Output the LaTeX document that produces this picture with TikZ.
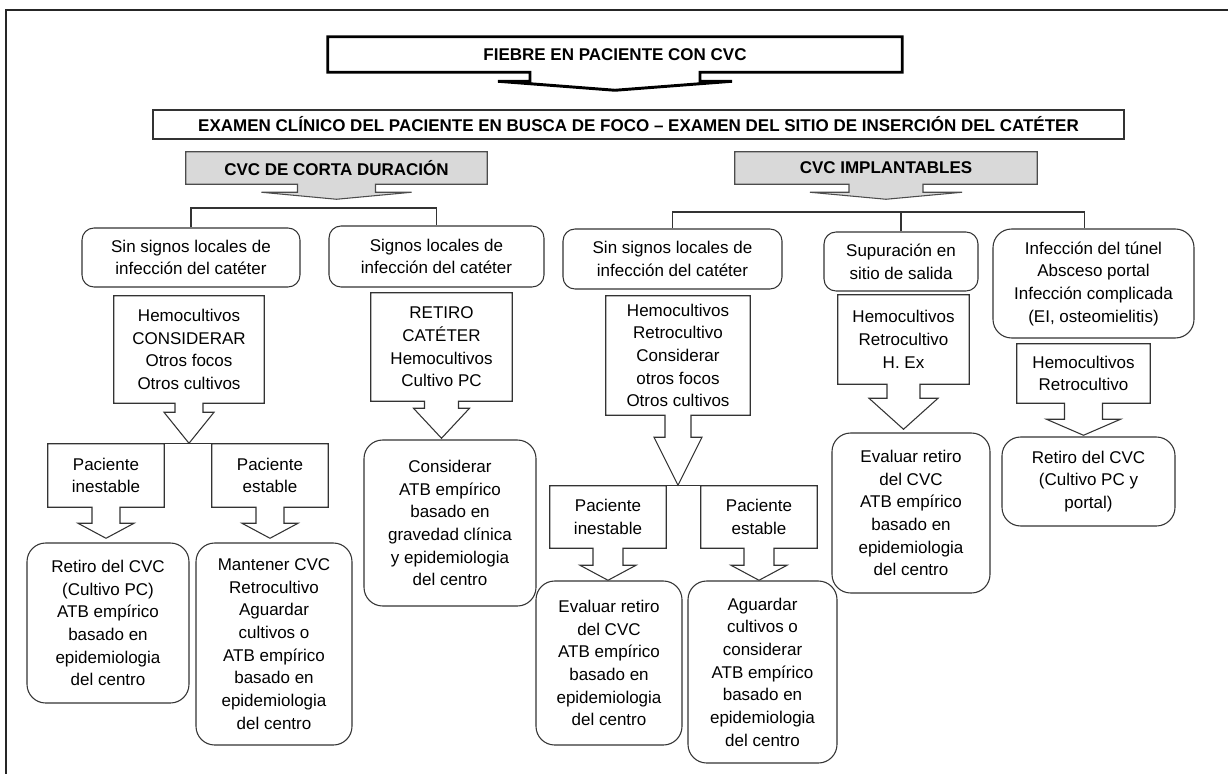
\documentclass[tikz,border=0pt]{standalone}
\usepackage{fontspec}
\setmainfont{Liberation Sans}
\usetikzlibrary{calc}
\pgfdeclarelayer{bg}
\pgfsetlayers{bg,main}
\tikzset{
  ln/.style={draw=black!80, line width=0.8pt},
  sz/.style 2 args={minimum width={#1*0.75pt}, minimum height={#2*0.75pt}},
  txt/.style={align=center, font=\fontsize{12.75}{17}\selectfont, inner sep=0pt},
  hdr/.style={txt, font=\fontsize{12.75}{17}\selectfont\bfseries},
  rbox/.style={txt, ln, rounded corners=9pt},
  bigbox/.style={txt, ln, rounded corners=14pt},
  titleline/.style={draw=black, line width=2.2pt, miter limit=10},
  greyline/.style={draw=black!70, line width=0.8pt, fill=black!15},
}
% #1 style, #2 node, #3 shaft half width, #4 shaft length, #5 head half width, #6 head length
\newcommand\callout[6][ln]{%
  \begin{pgfonlayer}{bg}
  \draw[#1] (#2.north west) -- (#2.north east) -- (#2.south east)
    -- ($(#2.south)+(#3,0)$) -- ($(#2.south)+(#3,#4)$) -- ($(#2.south)+(#5,#4)$)
    -- ($(#2.south)+(0,{#4+#6})$) -- ($(#2.south)+(-#5,#4)$) -- ($(#2.south)+(-#3,#4)$)
    -- ($(#2.south)+(-#3,0)$) -- (#2.south west) -- cycle;
  \end{pgfonlayer}}
\begin{document}
\begin{tikzpicture}[x=0.75pt, y=-0.75pt]
\useasboundingbox (0,0) rectangle (1228,774);
% frame
\draw[line width=1.4pt, black!85] (1228,10) -- (6,10) -- (6,774);

% top
\node[hdr, sz={574}{35}] (title) at (615,54.5) {FIEBRE EN PACIENTE CON CVC};
\callout[titleline]{title}{85}{9}{117}{9}
\node[hdr, ln, sz={971}{29}] (exam) at (638.5,124.5) {EXAMEN CLÍNICO DEL PACIENTE EN BUSCA DE FOCO – EXAMEN DEL SITIO DE INSERCIÓN DEL CATÉTER};

\node[hdr, sz={301}{32}] (gL) at (336.5,168) {CVC DE CORTA DURACIÓN};
\callout[greyline]{gL}{39}{8}{75}{7}
\node[hdr, sz={302}{32}] (gR) at (886,168) {CVC IMPLANTABLES};
\callout[greyline]{gR}{37}{8}{76}{7}

% left branch
\node[rbox, sz={218}{59}] (sA) at (191,257.5) {Sin signos locales de\\infección del catéter};
\node[rbox, sz={215}{61}] (sB) at (436.5,256.5) {Signos locales de\\infección del catéter};
\coordinate (jL) at (336.5,208);
\draw[ln] (sA.north) -- (sA.north |- jL) -- (sB.north |- jL) -- (sB.north);

\node[txt, sz={150}{107}] (cA) at (189,349.5) {Hemocultivos\\CONSIDERAR\\Otros focos\\Otros cultivos};
\callout{cA}{14}{9}{25}{31}
\node[txt, sz={141}{108}] (cB) at (441.5,347) {RETIRO\\CATÉTER\\Hemocultivos\\Cultivo PC};
\callout{cB}{17}{7}{28}{30}

\node[txt, sz={116}{63}] (pA) at (106,475.5) {Paciente\\inestable};
\callout{pA}{14}{16}{28}{15}
\node[txt, sz={116}{63}] (pB) at (270,475.5) {Paciente\\estable};
\callout{pB}{14}{16}{28}{15}
\draw[ln] (pA.north east) -- (pB.north west);

\node[bigbox, sz={162}{160}] (dA) at (108,623) {Retiro del CVC\\(Cultivo PC)\\ATB empírico\\basado en\\epidemiologia\\del centro};
\node[bigbox, sz={156}{202}] (dB) at (274,644) {Mantener CVC\\Retrocultivo\\Aguardar\\cultivos o\\ATB empírico\\basado en\\epidemiologia\\del centro};
\node[bigbox, sz={172}{166}] (dC) at (450,523) {Considerar\\ATB empírico\\basado en\\gravedad clínica\\y epidemiologia\\del centro};

% right branch
\node[rbox, sz={219}{60}] (rA) at (672.5,259) {Sin signos locales de\\infección del catéter};
\node[rbox, sz={154}{59}] (rB) at (901,261.5) {Supuración en\\sitio de salida};
\node[bigbox, sz={201}{109}] (rC) at (1093.5,283.5) {Infección del túnel\\Absceso portal\\Infección complicada\\(EI, osteomielitis)};
\coordinate (jR) at (886,212);
\coordinate (rCtop) at ($(rC.north)+(-9,0)$);
\draw[ln] (rA.north) -- (rA.north |- jR) -- (rCtop |- jR) -- (rCtop);
\draw[ln] (rB.north) -- (rB.north |- jR);

\node[txt, sz={144}{119}] (cC) at (678,355.5) {Hemocultivos\\Retrocultivo\\Considerar\\otros focos\\Otros cultivos};
\callout{cC}{13}{22}{24}{48}
\node[txt, sz={131}{89}] (cD) at (903.5,339.5) {Hemocultivos\\Retrocultivo\\H. Ex};
\callout{cD}{16.5}{14}{34.5}{31}
\node[txt, sz={133}{59}] (cE) at (1083.5,373.5) {Hemocultivos\\Retrocultivo};
\callout{cE}{19}{16}{37}{16}

\node[txt, sz={116}{62}] (pC) at (608,517) {Paciente\\inestable};
\callout{pC}{15}{17}{28}{15}
\node[txt, sz={116}{62}] (pD) at (759,517) {Paciente\\estable};
\callout{pD}{15}{17}{28}{15}
\draw[ln] (pC.north east) -- (pD.north west);

\node[bigbox, sz={146}{164}] (eA) at (609,663) {Evaluar retiro\\del CVC\\ATB empírico\\basado en\\epidemiologia\\del centro};
\node[bigbox, sz={149}{182}] (eB) at (762.5,672) {Aguardar\\cultivos o\\considerar\\ATB empírico\\basado en\\epidemiologia\\del centro};
\node[bigbox, sz={158}{160}] (eC) at (911,513) {Evaluar retiro\\del CVC\\ATB empírico\\basado en\\epidemiologia\\del centro};
\node[bigbox, sz={173}{89}] (eD) at (1088.5,481.5) {Retiro del CVC\\(Cultivo PC y\\portal)};
\end{tikzpicture}
\end{document}
